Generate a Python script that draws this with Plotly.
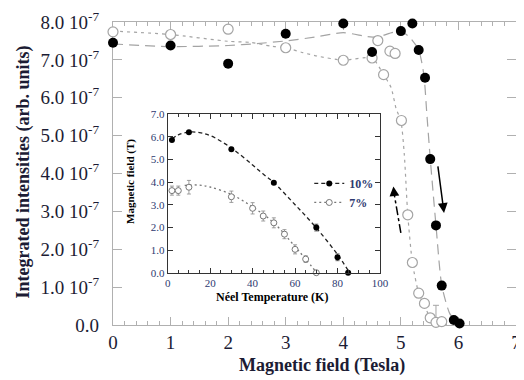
import plotly.graph_objects as go

# ---------------- main panel data (intensity in units of 1e-7) ----------------
field_10 = [0, 1, 2, 3, 4, 4.5, 5.0, 5.2, 5.31, 5.42, 5.51, 5.61, 5.71, 5.92, 6.02]
inten_10 = [7.45, 7.38, 6.90, 7.69, 7.96, 7.21, 7.76, 7.96, 7.26, 6.53, 4.38, 2.63, 1.04, 0.13, 0.04]

field_7 = [0, 1, 2, 3, 4, 4.5, 4.6, 4.7, 4.81, 4.9, 5.01, 5.12, 5.2, 5.31, 5.41, 5.51, 5.61, 5.71]
inten_7 = [7.74, 7.67, 7.81, 7.32, 6.99, 7.05, 7.51, 6.61, 7.23, 7.17, 5.40, 2.91, 1.65, 0.84, 0.57, 0.19, 0.07, 0.09]
err_7_plus = [0, 0, 0, 0, 0, 0, 0, 0, 0, 0, 0, 0, 0, 0, 0, 0, 0.45, 0]

guide_10_x = [0, 1, 2, 2.5, 3, 3.5, 4, 4.4, 4.6, 4.8, 5.0, 5.15, 5.31, 5.4, 5.45, 5.51, 5.61, 5.71, 5.85, 6.0]
guide_10_y = [7.42, 7.35, 7.38, 7.43, 7.5, 7.6, 7.72, 7.62, 7.6, 7.7, 7.76, 7.6, 7.26, 6.6, 5.6, 4.4, 2.63, 1.05, 0.3, 0.02]

guide_7_x = [0, 1, 2, 2.4, 2.75, 3, 3.3, 3.55, 4, 4.5, 4.7, 4.83, 4.92, 5.0, 5.06, 5.12, 5.2, 5.31, 5.41, 5.51, 5.6]
guide_7_y = [7.76, 7.67, 7.49, 7.46, 7.36, 7.32, 7.19, 7.1, 6.99, 7.05, 6.61, 6.27, 5.7, 5.4, 4.5, 2.91, 1.65, 0.84, 0.5, 0.2, 0.05]

main_yticks = [0, 1, 2, 3, 4, 5, 6, 7, 8]
main_yticktext = ["0.0"] + ["%.1f 10<sup>-7</sup>" % v for v in main_yticks[1:]]
main_xticks = [0, 1, 2, 3, 4, 5, 6, 7]

# arrows (data coords: tail -> head)
arrow_down = dict(tail=(5.64, 4.23), head=(5.75, 2.96))
arrow_up_x = [5.0, 4.885]
arrow_up_y = [2.43, 3.45]
arrow_up_head = (4.87, 3.66)

# ---------------- inset data ----------------
T_10 = [2, 10, 30, 50, 70, 80, 85]
H_10 = [5.85, 6.19, 5.44, 3.97, 1.99, 0.68, 0.0]
err_10 = [0, 0, 0, 0, 0.15, 0.15, 0]

T_7 = [2, 5, 10, 30, 40, 45, 50, 55, 60, 65, 70]
H_7 = [3.62, 3.62, 3.77, 3.35, 2.84, 2.5, 2.2, 1.7, 1.03, 0.6, 0.0]
err_7 = [0.2, 0.2, 0.3, 0.25, 0.25, 0.22, 0.22, 0.2, 0.2, 0.15, 0]

fit_10_T = [2, 5, 10, 15, 20, 30, 40, 45, 50, 60, 70, 80, 85]
fit_10_H = [5.9, 6.08, 6.2, 6.18, 6.05, 5.5, 4.75, 4.35, 3.97, 3.0, 1.98, 0.8, 0.1]
fit_7_T = [8, 10, 15, 20, 30, 40, 50, 60, 65, 70]
fit_7_H = [3.85, 3.87, 3.86, 3.78, 3.45, 2.9, 2.2, 1.15, 0.6, 0.02]

legend_names = ["<b>10%</b>", "<b>7%</b>"]

SERIF = "Liberation Serif"
GRAY = "#a4a4a4"
TXT = "#1c1c34"
INS_TXT = "#2e3a70"

fig = go.Figure()

# main guides
fig.add_trace(go.Scatter(x=guide_10_x, y=guide_10_y, mode="lines", line=dict(color=GRAY, width=1.2, dash="10px,6px", shape="spline", smoothing=0.6),
                         showlegend=False, hoverinfo="skip", cliponaxis=False))
fig.add_trace(go.Scatter(x=guide_7_x, y=guide_7_y, mode="lines", line=dict(color=GRAY, width=1.2, dash="3px,4px", shape="spline", smoothing=0.6),
                         showlegend=False, hoverinfo="skip", cliponaxis=False))
# main points
fig.add_trace(go.Scatter(x=field_7, y=inten_7, mode="markers",
                         marker=dict(symbol="circle", size=10, color="white", line=dict(width=1.2, color=GRAY)),
                         error_y=dict(type="data", array=err_7_plus, arrayminus=[0]*len(err_7_plus), color=GRAY, thickness=1, width=3),
                         showlegend=False, cliponaxis=False))
fig.add_trace(go.Scatter(x=field_10, y=inten_10, mode="markers",
                         marker=dict(symbol="circle", size=10, color="black"),
                         showlegend=False, cliponaxis=False))
# dash-dot arrow shaft
fig.add_trace(go.Scatter(x=arrow_up_x, y=arrow_up_y, mode="lines", line=dict(color="black", width=1.5, dash="dashdot"),
                         showlegend=False, hoverinfo="skip"))

# inset fits
fig.add_trace(go.Scatter(x=fit_10_T, y=fit_10_H, xaxis="x2", yaxis="y2", mode="lines",
                         line=dict(color="#222", width=1.3, dash="4px,3px", shape="spline"), showlegend=False, hoverinfo="skip"))
fig.add_trace(go.Scatter(x=fit_7_T, y=fit_7_H, xaxis="x2", yaxis="y2", mode="lines",
                         line=dict(color="#777", width=1.3, dash="2px,3px", shape="spline"), showlegend=False, hoverinfo="skip"))
# inset points
fig.add_trace(go.Scatter(x=T_7, y=H_7, xaxis="x2", yaxis="y2", mode="markers",
                         marker=dict(symbol="circle", size=6, color="white", line=dict(width=1, color="#777")),
                         error_y=dict(type="data", array=err_7, color="#888", thickness=0.8, width=2),
                         showlegend=False, cliponaxis=False))
fig.add_trace(go.Scatter(x=T_10, y=H_10, xaxis="x2", yaxis="y2", mode="markers",
                         marker=dict(symbol="circle", size=6, color="black"),
                         error_y=dict(type="data", array=err_10, color="#444", thickness=0.8, width=2),
                         showlegend=False, cliponaxis=False))
# legend entries
fig.add_trace(go.Scatter(x=[None], y=[None], xaxis="x2", yaxis="y2", mode="lines+markers", name=legend_names[0],
                         line=dict(color="#222", width=1.3, dash="4px,3px"), marker=dict(symbol="circle", size=6, color="black")))
fig.add_trace(go.Scatter(x=[None], y=[None], xaxis="x2", yaxis="y2", mode="lines+markers", name=legend_names[1],
                         line=dict(color="#777", width=1.3, dash="2px,3px"),
                         marker=dict(symbol="circle", size=6, color="white", line=dict(width=1, color="#777"))))

main_axis_common = dict(showgrid=False, zeroline=False, showline=True, linecolor="#b0b0b0", linewidth=1.2,
                        mirror="allticks", ticks="inside", tickcolor="#b0b0b0", tickwidth=1, automargin=False,
                        layer="below traces", tickfont=dict(family=SERIF, size=19, color=TXT))

# page body has an 8px margin, so the figure is 8px smaller and offset
fig.update_layout(
    width=516, height=372,
    margin=dict(l=105, r=8, t=14, b=55),
    paper_bgcolor="white", plot_bgcolor="white",
    xaxis=dict(range=[0, 7], tickvals=main_xticks, ticklen=8,
               minor=dict(dtick=0.2, ticks="inside", ticklen=4, tickcolor="#b0b0b0"),
               **main_axis_common),
    yaxis=dict(range=[0, 8], tickvals=main_yticks, ticktext=main_yticktext, ticklen=9,
               ticklabelstandoff=9, **main_axis_common),
    xaxis2=dict(domain=[0.1357, 0.6625], anchor="y2", range=[0, 100], tickvals=[0, 20, 40, 60, 80, 100],
                showgrid=False, zeroline=False, showline=True, linecolor="#333", linewidth=1, automargin=False,
                mirror="allticks", ticks="inside", ticklen=5, tickcolor="#333",
                minor=dict(dtick=5, ticks="inside", ticklen=3, tickcolor="#333"),
                tickfont=dict(family=SERIF, size=11, color=INS_TXT)),
    yaxis2=dict(domain=[0.1726, 0.6964], anchor="x2", range=[0, 7], tickvals=[0, 1, 2, 3, 4, 5, 6, 7],
                ticktext=["%.1f" % v for v in range(8)], automargin=False,
                showgrid=False, zeroline=False, showline=True, linecolor="#333", linewidth=1,
                mirror="allticks", ticks="inside", ticklen=5, tickcolor="#333",
                tickfont=dict(family=SERIF, size=11, color=INS_TXT)),
    legend=dict(x=0.487, y=0.515, xanchor="left", yanchor="top", bgcolor="rgba(0,0,0,0)",
                font=dict(family=SERIF, size=12, color=INS_TXT), itemwidth=30, tracegroupgap=0),
    shapes=[dict(type="rect", xref="x2 domain", yref="y2 domain", x0=0, x1=1, y0=0, y1=1,
                 fillcolor="white", line=dict(width=0), layer="below")],
    annotations=[
        dict(text="<b>Integrated intensities (arb. units)</b>", xref="paper", yref="paper",
             x=-0.222, y=0.505, textangle=-90, showarrow=False, xanchor="center", yanchor="middle",
             font=dict(family=SERIF, size=18, color=TXT)),
        dict(text="<b>Magnetic field (Tesla)</b>", xref="paper", yref="paper",
             x=0.519, y=-0.135, showarrow=False, xanchor="center", yanchor="middle",
             font=dict(family=SERIF, size=18, color=TXT)),
        dict(text="<b>Magnetic field (T)</b>", xref="paper", yref="paper",
             x=(131 - 113) / 403, y=(325 - 182) / 303, textangle=-90, showarrow=False,
             xanchor="center", yanchor="middle", font=dict(family=SERIF, size=11, color="black")),
        dict(text="<b>Néel Temperature (K)</b>", xref="paper", yref="paper",
             x=(272 - 113) / 403, y=(325 - 297) / 303, showarrow=False,
             xanchor="center", yanchor="middle", font=dict(family=SERIF, size=12, color="black")),
        dict(x=arrow_down["head"][0], y=arrow_down["head"][1], ax=arrow_down["tail"][0], ay=arrow_down["tail"][1],
             xref="x", yref="y", axref="x", ayref="y", showarrow=True, arrowhead=2, arrowsize=1.3,
             arrowwidth=1.5, arrowcolor="black", text=""),
        dict(x=arrow_up_head[0], y=arrow_up_head[1], ax=arrow_up_x[1], ay=arrow_up_y[1],
             xref="x", yref="y", axref="x", ayref="y", showarrow=True, arrowhead=2, arrowsize=1.3,
             arrowwidth=1.5, arrowcolor="black", text=""),
    ],
)

fig.write_html("out.html")
